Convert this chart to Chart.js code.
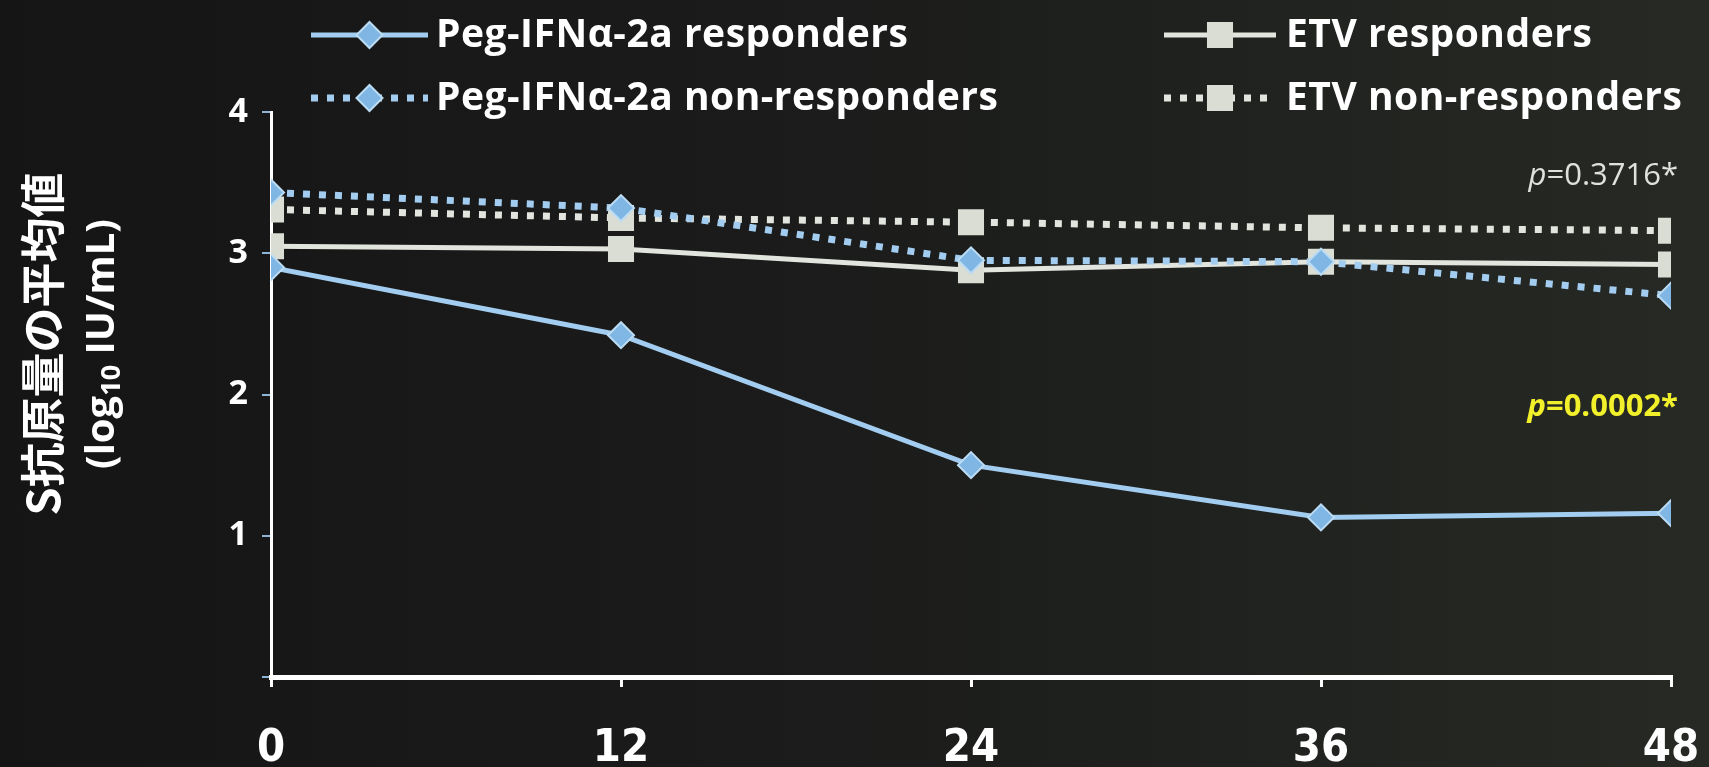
<!DOCTYPE html>
<html>
<head>
<meta charset="utf-8">
<script src="https://cdn.jsdelivr.net/npm/chart.js@4.4.1/dist/chart.umd.min.js"></script>
<style>
  html, body { margin: 0; padding: 0; }
  body {
    width: 1709px; height: 767px; overflow: hidden;
    background: linear-gradient(90deg, #151515 0%, #1a1b1a 45%, #262924 100%);
  }
  #wrap { position: relative; width: 1709px; height: 767px; }
</style>
</head>
<body>
<div id="wrap"><canvas id="chart" width="1709" height="767"></canvas></div>
<script>
// Weeks of treatment on the x axis
const weeks = [0, 12, 24, 36, 48];
const yTickValues = [0, 1, 2, 3, 4];

// Mean HBsAg level (log10 IU/mL) per group
const pegResponders    = [2.90, 2.42, 1.50, 1.13, 1.16];
const pegNonResponders = [3.43, 3.32, 2.95, 2.94, 2.70];
const etvResponders    = [3.05, 3.03, 2.88, 2.94, 2.92];
const etvNonResponders = [3.31, 3.25, 3.22, 3.18, 3.16];

const seriesNames = [
  'Peg-IFNα-2a responders',
  'Peg-IFNα-2a non-responders',
  'ETV responders',
  'ETV non-responders'
];

const yTitleLine1 = 'S抗原量の平均値';
const yTitleLine2 = ['(log', '10', ' IU/mL)'];
const pLabelEtv = ['p', '=0.3716*'];
const pLabelPeg = ['p', '=0.0002*'];

const BLUE_LINE = '#a3cdf0';
const BLUE_FILL = '#80b6e3';
const BLUE_EDGE = '#bcdcf4';
const GREY_LINE = '#e2e5dd';
const GREY_FILL = '#d9ddd4';

const toPoints = vals => weeks.map((w, i) => ({ x: w, y: vals[i] }));

const styles = [
  { color: BLUE_LINE, fill: BLUE_FILL, edge: BLUE_EDGE, width: 5, dash: [], shape: 'rectRot', radius: 13 },
  { color: BLUE_LINE, fill: BLUE_FILL, edge: BLUE_EDGE, width: 7, dash: [7, 9], shape: 'rectRot', radius: 13 },
  { color: GREY_LINE, fill: GREY_FILL, edge: GREY_FILL, width: 5, dash: [], shape: 'rect', radius: 17 },
  { color: GREY_LINE, fill: GREY_FILL, edge: GREY_FILL, width: 7, dash: [7, 9], shape: 'rect', radius: 17 }
];
const seriesValues = [pegResponders, pegNonResponders, etvResponders, etvNonResponders];

const datasets = seriesValues.map((vals, i) => ({
  label: seriesNames[i],
  data: toPoints(vals),
  borderColor: styles[i].color,
  borderWidth: styles[i].width,
  borderDash: styles[i].dash,
  borderCapStyle: 'butt',
  pointStyle: styles[i].shape,
  pointRadius: styles[i].radius,
  pointBackgroundColor: styles[i].fill,
  pointBorderColor: styles[i].edge,
  pointBorderWidth: 2,
  tension: 0,
  order: i < 2 ? 0 : 1
}));

function drawMarker(ctx, shape, x, y, r, fill, edge) {
  ctx.beginPath();
  if (shape === 'rect') {
    const s = r * Math.SQRT1_2;
    ctx.rect(x - s, y - s, 2 * s, 2 * s);
  } else {
    ctx.moveTo(x, y - r); ctx.lineTo(x + r, y); ctx.lineTo(x, y + r); ctx.lineTo(x - r, y);
    ctx.closePath();
  }
  ctx.fillStyle = fill; ctx.fill();
  ctx.lineWidth = 2; ctx.strokeStyle = edge; ctx.stroke();
}

// Two-column legend with a line sample and marker for each series
const legendPlugin = {
  id: 'sampleLegend',
  afterDraw(chart) {
    const ctx = chart.ctx;
    const slots = [
      { x1: 311, x2: 428, y: 35, tx: 436 },
      { x1: 311, x2: 428, y: 98, tx: 436 },
      { x1: 1164, x2: 1276, y: 35, tx: 1286 },
      { x1: 1164, x2: 1276, y: 98, tx: 1286 }
    ];
    ctx.save();
    slots.forEach((s, i) => {
      const st = styles[i];
      ctx.beginPath();
      ctx.setLineDash(st.dash);
      ctx.lineCap = 'butt';
      ctx.lineWidth = st.width;
      ctx.strokeStyle = st.color;
      ctx.moveTo(s.x1, s.y); ctx.lineTo(s.x2, s.y);
      ctx.stroke();
      ctx.setLineDash([]);
      drawMarker(ctx, st.shape, (s.x1 + s.x2) / 2, s.y, st.radius, st.fill, st.edge);
      ctx.fillStyle = '#ffffff';
      ctx.font = 'bold 39px "Open Sans", sans-serif';
      ctx.letterSpacing = '0.5px';
      ctx.textAlign = 'left';
      ctx.textBaseline = 'middle';
      ctx.fillText(seriesNames[i], s.tx, s.y + 1);
    });
    ctx.restore();
  }
};

// Rotated y-axis title and the p-value notes
const notesPlugin = {
  id: 'notes',
  afterDraw(chart) {
    const ctx = chart.ctx;
    ctx.save();
    ctx.fillStyle = '#ffffff';
    ctx.translate(43, 344);
    ctx.rotate(-Math.PI / 2);
    ctx.textAlign = 'center';
    ctx.textBaseline = 'middle';
    ctx.font = 'bold 45px "Noto Sans CJK JP", sans-serif';
    ctx.fillText(yTitleLine1, 0, 0);

    const big = 'bold 40px "Open Sans", sans-serif';
    const small = 'bold 27px "Open Sans", sans-serif';
    ctx.font = big; const w0 = ctx.measureText(yTitleLine2[0]).width;
    ctx.font = small; const w1 = ctx.measureText(yTitleLine2[1]).width;
    ctx.font = big; const w2 = ctx.measureText(yTitleLine2[2]).width;
    let x = -(w0 + w1 + w2) / 2;
    const y2 = 60;
    ctx.textAlign = 'left';
    ctx.font = big; ctx.fillText(yTitleLine2[0], x, y2); x += w0;
    ctx.font = small; ctx.fillText(yTitleLine2[1], x, y2 + 9); x += w1;
    ctx.font = big; ctx.fillText(yTitleLine2[2], x, y2);
    ctx.restore();

    const drawP = (parts, right, y, color, weight) => {
      ctx.save();
      ctx.fillStyle = color;
      ctx.textBaseline = 'middle';
      ctx.textAlign = 'left';
      const f1 = `italic ${weight} 31px "Open Sans", sans-serif`;
      const f2 = `${weight} 31px "Open Sans", sans-serif`;
      ctx.font = f1; const a = ctx.measureText(parts[0]).width;
      ctx.font = f2; const b = ctx.measureText(parts[1]).width;
      const x0 = right - a - b;
      ctx.font = f1; ctx.fillText(parts[0], x0, y);
      ctx.font = f2; ctx.fillText(parts[1], x0 + a, y);
      ctx.restore();
    };
    drawP(pLabelEtv, 1678, 176, '#dfe1dd', 'normal');
    drawP(pLabelPeg, 1678, 407, '#f2f02a', 'bold');
  }
};

new Chart(document.getElementById('chart'), {
  type: 'line',
  data: { datasets },
  options: {
    responsive: false,
    animation: false,
    events: [],
    layout: { padding: { left: 0, right: 38, top: 112, bottom: 0 } },
    plugins: { legend: { display: false }, tooltip: { enabled: false } },
    scales: {
      x: {
        type: 'linear',
        min: 0, max: 48,
        afterFit(scale) { scale.height = 90; scale.paddingLeft = 0; scale.paddingRight = 0; },
        afterBuildTicks(scale) { scale.ticks = weeks.map(v => ({ value: v })); },
        border: { display: true, color: '#ffffff', width: 5 },
        grid: { display: true, drawOnChartArea: false, drawTicks: true, tickLength: 10, color: '#ffffff', lineWidth: 3 },
        ticks: {
          color: '#ffffff',
          padding: 35,
          font: { family: '"Liberation Sans Narrow", "DejaVu Sans Condensed", sans-serif', weight: 'bold', size: 45 },
          maxRotation: 0
        }
      },
      y: {
        min: 0, max: 4,
        afterFit(scale) { scale.width = 271; },
        afterBuildTicks(scale) { scale.ticks = yTickValues.map(v => ({ value: v })); },
        border: { display: true, color: '#ffffff', width: 3 },
        grid: { display: true, drawOnChartArea: false, drawTicks: true, tickLength: 9, color: '#8fb4da', lineWidth: 2 },
        ticks: {
          color: '#ffffff',
          padding: 14,
          font: { family: '"Open Sans", sans-serif', weight: 'bold', size: 34 },
          callback: v => (v === 0 ? '' : String(v))
        }
      }
    }
  },
  plugins: [legendPlugin, notesPlugin]
});
</script>
</body>
</html>
